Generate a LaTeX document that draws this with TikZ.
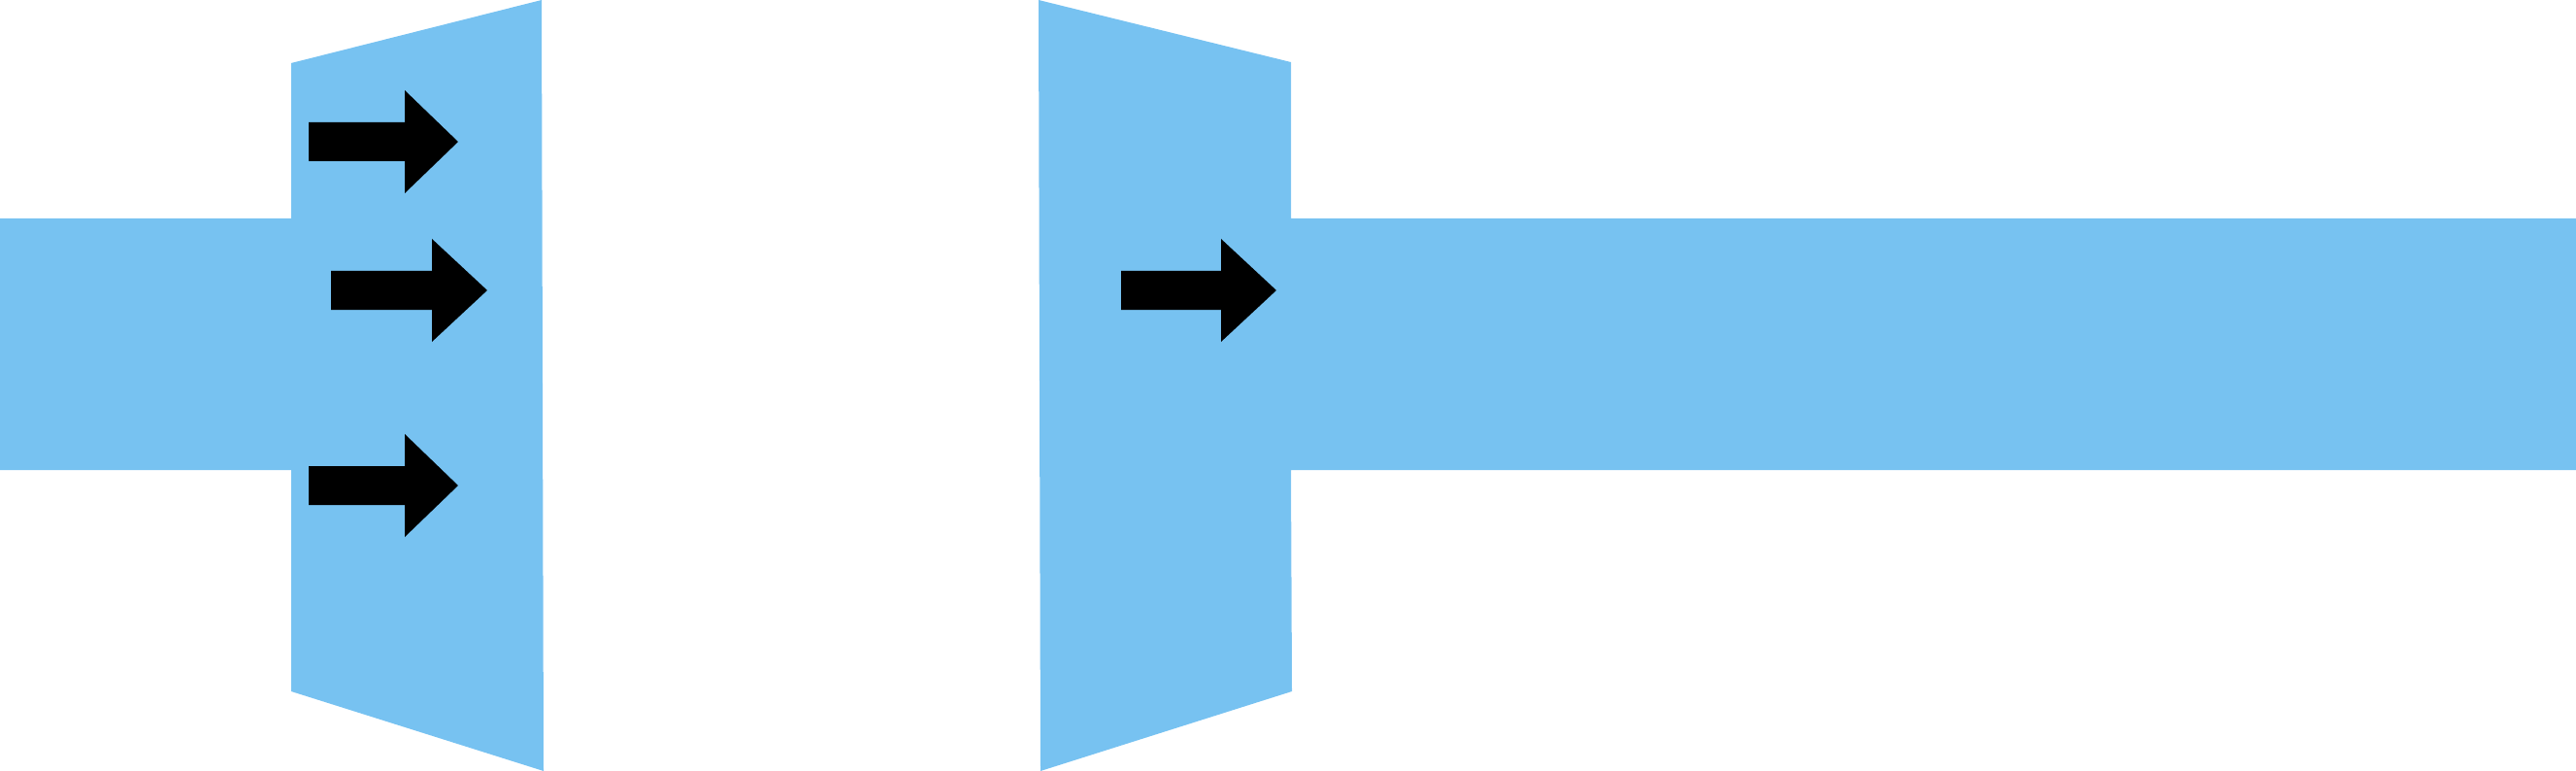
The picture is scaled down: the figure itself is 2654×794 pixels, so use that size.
\documentclass[tikz,border=0pt]{standalone}
\definecolor{flow}{HTML}{77C2F1}
\newcommand{\blockarrow}[5]{% x0, xhead, xtip, yc, shaft half
  \fill[black] (#1,#4-#5) -- (#2,#4-#5) -- (#2,#4-0.53) -- (#3,#4) -- (#2,#4+0.53) -- (#2,#4+#5) -- (#1,#4+#5) -- cycle;}
\begin{document}
\begin{tikzpicture}[x=0.01cm,y=-0.01cm]
  \useasboundingbox (0,0) rectangle (2654,794);
  % LEFT NOZZLE
  \fill[flow] (0,225) -- (300,225) -- (300,65) -- (558,0) -- (560,794) -- (300,712) -- (300,484) -- (0,484) -- cycle;
  % RIGHT NOZZLE
  \fill[flow] (1070,0) -- (1330,64) -- (1330,225) -- (2654,225) -- (2654,484) -- (1330,484) -- (1331,712) -- (1072,794) -- cycle;
  % ARROWS
  \foreach \xa/\xb/\xc/\yc in {318/417/472/146, 341/445/502/299, 318/417/472/500, 1155/1258/1315/299} {
    \fill[black] (\xa,\yc-20) -- (\xb,\yc-20) -- (\xb,\yc-53) -- (\xc,\yc) -- (\xb,\yc+53) -- (\xb,\yc+20) -- (\xa,\yc+20) -- cycle;
  }
\end{tikzpicture}
\end{document}
